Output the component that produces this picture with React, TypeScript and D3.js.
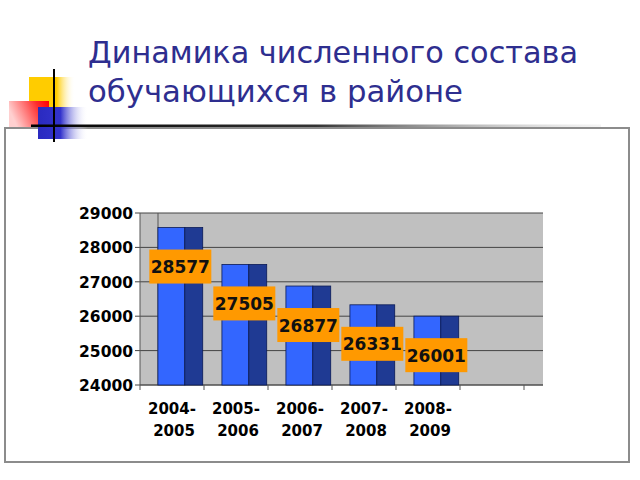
import React from "react";
import * as d3 from "d3";

const categories = ["2004-2005", "2005-2006", "2006-2007", "2007-2008", "2008-2009"];
const values = [28577, 27505, 26877, 26331, 26001];
const yTicks = [24000, 25000, 26000, 27000, 28000, 29000];
const titleLines = ["Динамика численного состава", "обучающихся в районе"];

const W = 640;
const H = 480;
const plot = { left: 140, right: 543, top: 213, bottom: 385 };

export default function App() {
  const y = d3.scaleLinear().domain([24000, 29000]).range([plot.bottom, plot.top]);
  const x = d3
    .scaleBand<string>()
    .domain(categories)
    .range([plot.left, plot.left + 64 * categories.length])
    .paddingInner(0)
    .paddingOuter(0);
  const bw = x.bandwidth();
  const depth = 18;
  const tickXs = d3.range(0, 7).map((i) => plot.left + 64 * i);
  const font = "'DejaVu Sans', Verdana, sans-serif";

  return (
    <div style={{ position: "absolute", left: 0, top: 0 }}>
      <svg width={W} height={H} viewBox={`0 0 ${W} ${H}`} style={{ display: "block", background: "#fff" }}>
        <defs>
          <linearGradient id="gY" x1="0" x2="1" y1="0" y2="0">
            <stop offset="0" stopColor="#ffcc00" />
            <stop offset="0.6" stopColor="#ffcc00" />
            <stop offset="1" stopColor="#ffffff" stopOpacity="0" />
          </linearGradient>
          <linearGradient id="gR" x1="0" x2="1" y1="0.3" y2="0">
            <stop offset="0" stopColor="#ffd0d0" />
            <stop offset="0.7" stopColor="#ff2a2a" />
            <stop offset="1" stopColor="#ff0000" />
          </linearGradient>
          <linearGradient id="gB" x1="0" x2="1" y1="0" y2="0">
            <stop offset="0" stopColor="#2a2ac0" />
            <stop offset="0.45" stopColor="#3333cc" />
            <stop offset="1" stopColor="#ffffff" stopOpacity="0" />
          </linearGradient>
          <linearGradient id="gL" x1="0" x2="1" y1="0" y2="0">
            <stop offset="0" stopColor="#000000" />
            <stop offset="0.5" stopColor="#333333" />
            <stop offset="1" stopColor="#dddddd" stopOpacity="0.3" />
          </linearGradient>
        </defs>

        {/* frame */}
        <rect x={5} y={128} width={624} height={334} fill="#fff" stroke="#8c8c8c" strokeWidth={2} />

        {/* decorations */}
        <rect x={29} y={77} width={46} height={30} fill="url(#gY)" />
        <rect x={9} y={101} width={40} height={26} fill="url(#gR)" />
        <rect x={38} y={107} width={50} height={32} fill="url(#gB)" />
        <rect x={31} y={124.5} width={570} height={2.5} fill="url(#gL)" />
        <line x1={54} x2={54} y1={69} y2={142} stroke="#000" strokeWidth={2} />

        {/* title */}
        {titleLines.map((t, i) => (
          <text
            key={i}
            x={88}
            y={63 + i * 39}
            fontFamily={font}
            fontSize={31}
            fill="#2e2e8f"
            textLength={i === 0 ? 490 : 375}
            lengthAdjust="spacingAndGlyphs"
          >
            {t}
          </text>
        ))}

        {/* plot area */}
        <rect x={plot.left} y={plot.top} width={plot.right - plot.left} height={plot.bottom - plot.top} fill="#c0c0c0" />
        {yTicks.map((t) => (
          <line key={t} x1={plot.left - 5} x2={plot.right} y1={y(t)} y2={y(t)} stroke="#444" strokeWidth={1} />
        ))}
        <line x1={plot.left + depth} x2={plot.left + depth} y1={plot.top} y2={plot.bottom} stroke="#555" strokeWidth={1} />
        <line x1={plot.left} x2={plot.left} y1={plot.top} y2={plot.bottom} stroke="#555" strokeWidth={1} />
        <line x1={plot.left} x2={plot.right} y1={plot.bottom} y2={plot.bottom} stroke="#555" strokeWidth={1} />
        {tickXs.map((tx) => (
          <line key={tx} x1={tx} x2={tx} y1={plot.bottom} y2={plot.bottom + 5} stroke="#555" strokeWidth={1} />
        ))}

        {/* bars */}
        {categories.map((c, i) => {
          const x0 = x(c) as number;
          const top = y(values[i]);
          const fx = x0 + bw * 0.28;
          const fw = bw * 0.42;
          const sw = bw * 0.28;
          return (
            <g key={c}>
              <rect x={fx} y={top} width={fw} height={plot.bottom - top} fill="#3366ff" stroke="#0a1a55" strokeWidth={0.8} />
              <rect x={fx + fw} y={top} width={sw} height={plot.bottom - top} fill="#1f3a93" stroke="#0a1a55" strokeWidth={0.8} />
            </g>
          );
        })}

        {/* data labels */}
        {categories.map((c, i) => {
          const cx = (x(c) as number) + bw * 0.28 + bw * 0.35;
          const cy = y(values[i]) + 39;
          return (
            <g key={c + "l"}>
              <rect x={cx - 31} y={cy - 17} width={62} height={34} fill="#ff9900" />
              <text x={cx} y={cy + 6.5} textAnchor="middle" fontFamily={font} fontWeight="bold" fontSize={17} fill="#111">
                {values[i]}
              </text>
            </g>
          );
        })}

        {/* y labels */}
        {yTicks.map((t) => (
          <text key={t} x={133} y={y(t) + 6} textAnchor="end" fontFamily={font} fontWeight="bold" fontSize={15.5} fill="#000">
            {t}
          </text>
        ))}

        {/* x labels */}
        {categories.map((c) => {
          const cx = (x(c) as number) + bw / 2;
          const [a, b] = c.split("-");
          return (
            <text key={c + "x"} textAnchor="middle" fontFamily={font} fontWeight="bold" fontSize={15} fill="#000">
              <tspan x={cx} y={414}>{a + "-"}</tspan>
              <tspan x={cx + 2} y={436}>{b}</tspan>
            </text>
          );
        })}
      </svg>
    </div>
  );
}
